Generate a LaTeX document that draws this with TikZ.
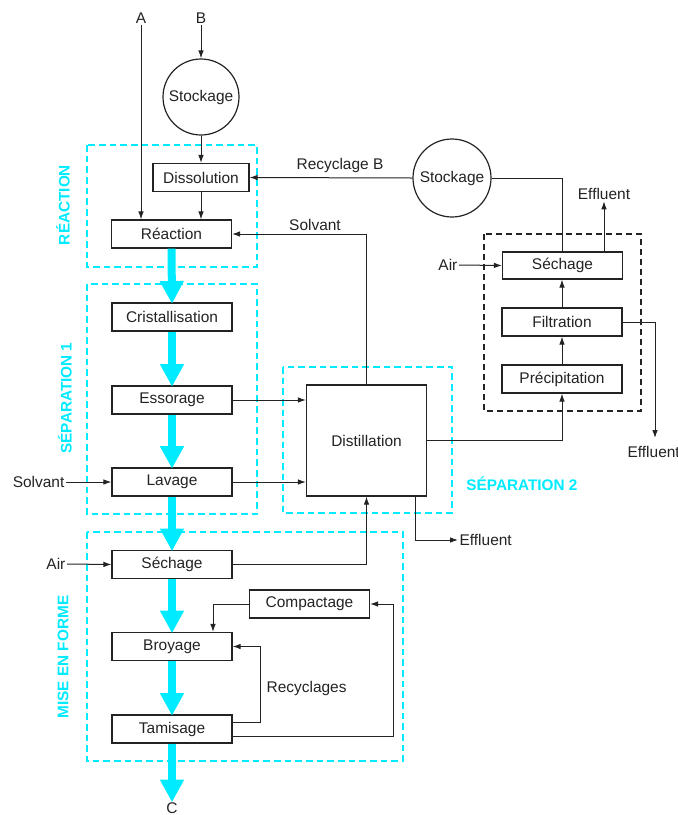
\documentclass[tikz,border=0pt]{standalone}
\usepackage{fontspec}
\setmainfont{Liberation Sans}
\usetikzlibrary{arrows.meta,calc}
\definecolor{cy}{RGB}{0,235,255}
\definecolor{ink}{RGB}{35,35,35}
\begin{document}
\begin{tikzpicture}[x=0.75pt,y=-0.75pt,
  every node/.style={font=\fontsize{11.6}{13}\selectfont, text=ink},
  box/.style={draw=ink, line width=0.9pt, fill=white, minimum width=90pt, minimum height=21pt, inner sep=0pt},
  tank/.style={draw=ink, line width=0.9pt, circle, fill=white, inner sep=0pt, minimum size=57pt},
  lbl/.style={inner sep=1pt},
  arr/.style={draw=ink, line width=0.75pt, -{Latex[length=6pt,width=4.2pt]}},
  ln/.style={draw=ink, line width=0.75pt},
  flow/.style={draw=cy, line width=6pt, -{Triangle[length=17pt,width=17pt]}, shorten >=-1pt},
  zone/.style={draw=cy, line width=1.6pt, dash pattern=on 5pt off 3pt},
  zonelbl/.style={text=cy, font=\fontsize{11.5}{13}\selectfont\bfseries},
  bzone/.style={draw=ink, line width=0.9pt, dash pattern=on 4.5pt off 3pt}]
\useasboundingbox (0,0) rectangle (678,815);
% zones
\draw[zone] (87,145) rectangle (257,267);
\draw[zone] (87,284) rectangle (257,514);
\draw[zone] (87,532) rectangle (403,761);
\draw[zone] (283,367) rectangle (452,513);
\draw[bzone] (484,234) rectangle (641,411);
\node[zonelbl, rotate=90] (zr) at (63,205) {RÉACTION};
\node[zonelbl, rotate=90] (zs1) at (65,398) {SÉPARATION 1};
\node[zonelbl, rotate=90] (zm) at (63,657) {MISE EN FORME};
\node[zonelbl] (zs2) at (522,484) {SÉPARATION 2};
% nodes
\node[lbl] (A) at (141,18) {A};
\node[lbl] (B) at (201,18) {B};
\node[tank] (stock1) at (201,97) {Stockage};
\node[box, minimum width=72pt] (diss) at (201,177.5) {Dissolution};
\node[box] (reac) at (171.5,234) {Réaction};
\node[box] (crist) at (172,317) {Cristallisation};
\node[box] (esso) at (172,400) {Essorage};
\node[box] (lav) at (172,482) {Lavage};
\node[box] (sech) at (172,564.5) {Séchage};
\node[box] (broy) at (172,646.5) {Broyage};
\node[box] (tami) at (172,729) {Tamisage};
\node[box] (comp) at (309.5,604) {Compactage};
\node[box, minimum height=83.25pt] (dist) at (366.5,440.5) {Distillation};
\node[tank, minimum size=58.5pt] (stock2) at (452,178) {Stockage};
\node[box, minimum height=20.25pt] (sech2) at (562.5,265.5) {Séchage};
\node[box] (filt) at (562,322) {Filtration};
\node[box] (prec) at (562,379) {Précipitation};
\node[lbl] (C) at (172,808) {C};
\node[lbl, anchor=east] (solv) at (66,482) {Solvant};
\node[lbl, anchor=east] (air1) at (67,564) {Air};
\node[lbl, anchor=east] (air2) at (459,265) {Air};
\node[lbl] (eff1) at (604,194) {Effluent};
\node[lbl, anchor=west] (eff2) at (458,540) {Effluent};
\node[lbl, anchor=west] (eff3) at (626,452) {Effluent};
\node[lbl] (recB) at (340,165) {Recyclage B};
\node[lbl] (solvL) at (315,225) {Solvant};
\node[lbl, anchor=west] (recy) at (265,688) {Recyclages};
\coordinate (e3) at (655,438);
% main flow
\draw[flow] (reac.south) -- (crist.north);
\draw[flow] (crist.south) -- (esso.north);
\draw[flow] (esso.south) -- (lav.north);
\draw[flow] (lav.south) -- (sech.north);
\draw[flow] (sech.south) -- (broy.north);
\draw[flow] (broy.south) -- (tami.north);
\draw[flow] (tami.south) -- (C.north);
% connectors
\draw[arr] (A.south) -- (A.south |- reac.north);
\draw[arr] (B.south) -- (stock1.north);
\draw[arr] (stock1.south) -- (diss.north);
\draw[arr] (diss.south) -- (diss.south |- reac.north);
\draw[arr] (stock2.west) -- (diss.east);
\draw[ln] (stock2.east) -| (sech2.north);
\draw[arr] (eff1.south |- sech2.north) -- (eff1.south);
\draw[arr] (air2.east) -- (sech2.west);
\draw[arr] (prec.north) -- (filt.south);
\draw[arr] (filt.north) -- (filt.north |- sech2.south);
\draw[arr] (filt.east) -| (e3);
\draw[arr] (dist.east) -| (prec.south);
\draw[arr] (dist.north) |- (reac.east);
\draw[arr] (esso.east) -- (esso.east -| dist.west);
\draw[arr] (lav.east) -- (lav.east -| dist.west);
\draw[arr] (solv.east) -- (lav.west);
\draw[arr] (air1.east) -- (sech.west);
\draw[arr] (sech.east) -| (dist.south);
\draw[arr] ([xshift=36.4pt]dist.south) |- (eff2.west);
\draw[arr] (comp.west) -| ([xshift=30.75pt]broy.north);
\draw[arr] ([yshift=5.25pt]tami.east) -- ++(28,0) |- (broy.east);
\draw[arr] ([yshift=-5.25pt]tami.east) -- ++(161,0) |- (comp.east);
\end{tikzpicture}
\end{document}
